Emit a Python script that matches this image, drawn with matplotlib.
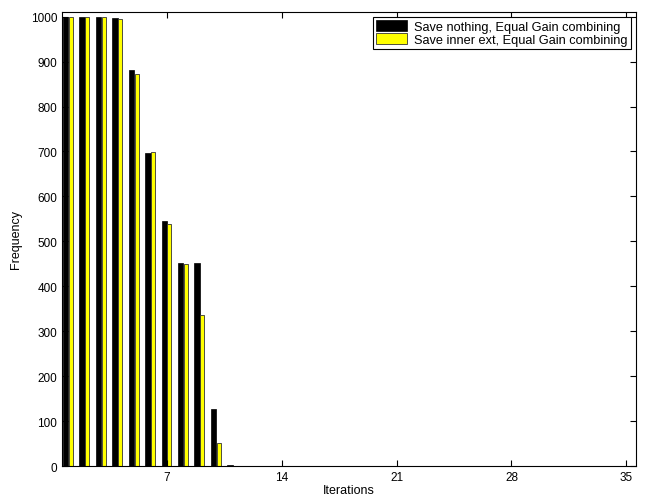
import numpy as np
import matplotlib
matplotlib.use('Agg')
import matplotlib.pyplot as plt

plt.rcParams['font.family'] = ['Liberation Sans', 'DejaVu Sans']

iterations = np.arange(1, 36)
save_nothing = [1000, 1000, 1000, 998, 881, 697, 545, 452, 452, 126, 2] + [0] * 24
save_inner = [1000, 1000, 1000, 994, 873, 698, 539, 449, 337, 52, 1] + [0] * 24
xticks = [7, 14, 21, 28, 35]
yticks = np.arange(0, 1001, 100)

fig = plt.figure(figsize=(6.48, 5.02), dpi=100)
ax = fig.add_axes([0.0957, 0.0697, 0.886, 0.905])

ax.bar(iterations - 0.17, save_nothing, width=0.33, color='black', edgecolor='black',
       linewidth=0.5, label='Save nothing, Equal Gain combining')
ax.bar(iterations + 0.15, save_inner, width=0.24, color='yellow', edgecolor='#333333',
       linewidth=0.6, label='Save inner ext, Equal Gain combining')

ax.set_xlim(0.6, 35.6)
ax.set_ylim(0, 1011)
ax.set_xticks(xticks)
ax.set_yticks(yticks)
ax.tick_params(direction='in', top=True, right=True, labelsize=8.5, length=4, width=0.8)
for s in ax.spines.values():
    s.set_linewidth(0.8)
ax.set_xlabel('Iterations', fontsize=9, labelpad=1)
ax.set_ylabel('Frequency', fontsize=9, labelpad=6)

leg = ax.legend(loc='upper right', fontsize=9.2, fancybox=False, framealpha=1,
                edgecolor='black', borderpad=0.25, handlelength=2.4, handleheight=0.9,
                labelspacing=0.05, handletextpad=0.6, borderaxespad=0.4)
leg.get_frame().set_linewidth(0.8)

fig.savefig('out.png', dpi=100)
